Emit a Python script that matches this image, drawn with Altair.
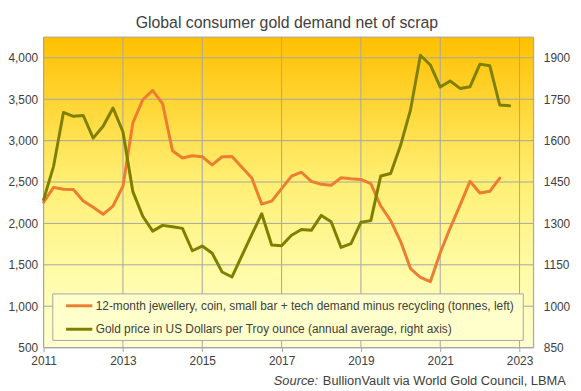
import altair as alt
import pandas as pd

# ---------------- data ----------------
quarters = [2011 + i / 4 for i in range(48)]  # quarter start positions, 2011 Q1 .. 2022 Q4

demand_tonnes = [2255, 2435, 2412, 2410, 2270, 2195, 2110, 2210,
                 2450, 3214, 3493, 3607, 3445, 2877, 2790, 2817,
                 2805, 2706, 2805, 2809, 2678, 2547, 2233, 2269,
                 2420, 2571, 2618, 2507, 2472, 2460, 2551, 2539,
                 2531, 2480, 2210, 2034, 1784, 1455, 1348, 1296,
                 1646, 1944, 2221, 2509, 2368, 2388, 2547]

gold_usd = [1386, 1506, 1702, 1688, 1691, 1609, 1652, 1718,
            1632, 1415, 1326, 1272, 1293, 1288, 1282, 1201,
            1218, 1192, 1124, 1106, 1183, 1260, 1335, 1222,
            1219, 1257, 1278, 1275, 1329, 1306, 1213, 1227,
            1304, 1310, 1472, 1481, 1583, 1711, 1909, 1874,
            1794, 1816, 1789, 1795, 1877, 1871, 1729, 1726]

x_ticks = [2011, 2013, 2015, 2017, 2019, 2021, 2023]
left_ticks = [500, 1000, 1500, 2000, 2500, 3000, 3500, 4000]
right_ticks = [850, 1000, 1150, 1300, 1450, 1600, 1750, 1900]

label_demand = "12-month jewellery, coin, small bar + tech demand minus recycling (tonnes, left)"
label_gold = "Gold price in US Dollars per Troy ounce (annual average, right axis)"
title_text = "Global consumer gold demand net of scrap"
source_italic = "Source:"
source_rest = "BullionVault via World Gold Council, LBMA"

# ---------------- styling ----------------
ORANGE = "#ED7D31"
OLIVE = "#7F7F00"
GRID = "#A5A5A5"
TEXT = "#404040"
FONT = "Liberation Sans"
LEFT = 44.0          # page x of plot's left edge
W, H = 495.3, 314


def rx(page_x):
    """page x -> x inside the plot group"""
    return page_x - LEFT


def ry(page_y):
    """page y -> y inside the plot group"""
    return page_y - 35.3


df_d = pd.DataFrame({"t": quarters[:len(demand_tonnes)], "v": demand_tonnes})
df_g = pd.DataFrame({"t": quarters, "v": gold_usd})
one = pd.DataFrame({"k": [0]})

x_sc = alt.Scale(domain=[2011, 2023.35], nice=False, zero=False)
x_axis = alt.Axis(values=x_ticks, format="d", title=None, grid=False, domain=False,
                  tickColor=GRID, tickSize=4, labelFontSize=12, labelColor=TEXT,
                  labelFont=FONT, labelPadding=4, labelFlush=False, labelOverlap=False)
yl_sc = alt.Scale(domain=[500, 4250], nice=False, zero=False)
yl_axis = alt.Axis(values=left_ticks, format=",d", title=None, grid=False, domain=False,
                   ticks=False, tickSize=0, labelPadding=6, labelFontSize=12,
                   labelColor=TEXT, labelFont=FONT, orient="left")
yr_sc = alt.Scale(domain=[850, 1975], nice=False, zero=False)
yr_axis = alt.Axis(values=right_ticks, format="d", title=None, grid=False, domain=False,
                   ticks=False, tickSize=0, labelPadding=10, labelFontSize=12,
                   labelColor=TEXT, labelFont=FONT, orient="right")

gradient = alt.LinearGradient(
    gradient="linear", x1=0, x2=0, y1=0, y2=1,
    stops=[alt.GradientStop(offset=0, color="#FFC000"),
           alt.GradientStop(offset=0.45, color="#FFEE70"),
           alt.GradientStop(offset=0.75, color="#FFFBA6"),
           alt.GradientStop(offset=1, color="#FFFFD0")])

bg = alt.Chart(one).mark_rect(fill=gradient, strokeWidth=0).encode(
    x=alt.value(0), x2=alt.value(W), y=alt.value(0), y2=alt.value(H))

vgrid = alt.Chart(pd.DataFrame({"t": x_ticks})).mark_rule(color=GRID, strokeWidth=1).encode(
    x=alt.X("t:Q", scale=x_sc, axis=x_axis), y=alt.value(0), y2=alt.value(H))

border = alt.Chart(one).mark_rect(fillOpacity=0, stroke=GRID, strokeWidth=1).encode(
    x=alt.value(0), x2=alt.value(W), y=alt.value(0), y2=alt.value(H))

hgrid = alt.Chart(pd.DataFrame({"v": left_ticks})).mark_rule(color=GRID, strokeWidth=1).encode(
    y=alt.Y("v:Q", scale=yl_sc, axis=yl_axis), x=alt.value(0), x2=alt.value(W))

orange = alt.Chart(df_d).mark_line(color=ORANGE, strokeWidth=3, strokeJoin="round", strokeCap="round").encode(
    x=alt.X("t:Q", scale=x_sc, axis=x_axis),
    y=alt.Y("v:Q", scale=yl_sc, axis=yl_axis))

left_part = alt.layer(hgrid, orange)

olive = alt.Chart(df_g).mark_line(color=OLIVE, strokeWidth=3, strokeJoin="round", strokeCap="round").encode(
    x=alt.X("t:Q", scale=x_sc, axis=x_axis),
    y=alt.Y("v:Q", scale=yr_sc, axis=yr_axis))

# ---------------- legend (drawn box) ----------------
leg_box = alt.Chart(one).mark_rect(fill="#FFFFCC", stroke=GRID, strokeWidth=1).encode(
    x=alt.value(rx(53.3)), x2=alt.value(rx(529)), y=alt.value(ry(295)), y2=alt.value(ry(342)))
leg_sym1 = alt.Chart(one).mark_rule(color=ORANGE, strokeWidth=3).encode(
    x=alt.value(rx(66.7)), x2=alt.value(rx(93.3)), y=alt.value(ry(307)))
leg_sym2 = alt.Chart(one).mark_rule(color=OLIVE, strokeWidth=3).encode(
    x=alt.value(rx(66.7)), x2=alt.value(rx(93.3)), y=alt.value(ry(330.7)))
leg_txt1 = alt.Chart(one).mark_text(align="left", baseline="middle", fontSize=12, color=TEXT, font=FONT).encode(
    x=alt.value(rx(96.7)), y=alt.value(ry(307)), text=alt.value(label_demand))
leg_txt2 = alt.Chart(one).mark_text(align="left", baseline="middle", fontSize=12, color=TEXT, font=FONT).encode(
    x=alt.value(rx(96.7)), y=alt.value(ry(330.7)), text=alt.value(label_gold))

# ---------------- title & source note ----------------
title_mark = alt.Chart(one).mark_text(align="center", baseline="alphabetic", fontSize=16, color=TEXT, font=FONT).encode(
    x=alt.value(rx(290)), y=alt.value(ry(25.7)), text=alt.value(title_text))
src_rest = alt.Chart(one).mark_text(align="right", baseline="alphabetic", fontSize=13, color=TEXT, font=FONT).encode(
    x=alt.value(rx(572)), y=alt.value(ry(386.7)), text=alt.value(source_rest))
src_it = alt.Chart(one).mark_text(align="right", baseline="alphabetic", fontSize=13, color=TEXT, font=FONT,
                                  fontStyle="italic").encode(
    x=alt.value(rx(321.5)), y=alt.value(ry(386.7)), text=alt.value(source_italic))

chart = alt.layer(
    bg, vgrid, border, left_part, olive,
    leg_box, leg_sym1, leg_sym2, leg_txt1, leg_txt2, title_mark, src_rest, src_it
).resolve_scale(y="independent").properties(
    width=W, height=H,
    autosize="none",
    padding={"left": LEFT - 8, "top": 27.3, "right": 40, "bottom": 39},
).configure_view(strokeWidth=0).configure(font=FONT, background="white")

chart.save("out.html", embed_options={"renderer": "svg", "actions": False})
